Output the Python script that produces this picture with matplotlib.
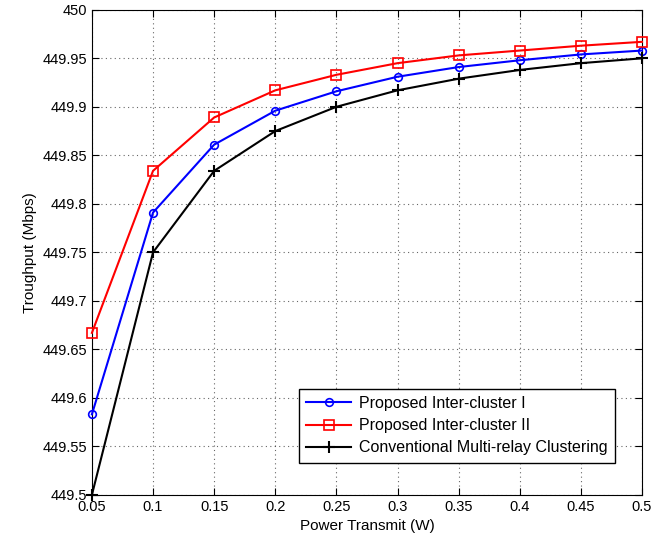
import matplotlib.pyplot as plt

plt.rcParams['font.family'] = ['Liberation Sans', 'DejaVu Sans']

# power transmit (W)
power = [0.05, 0.1, 0.15, 0.2, 0.25, 0.3, 0.35, 0.4, 0.45, 0.5]

# throughput (Mbps)
inter_cluster_1 = [449.583, 449.791, 449.861, 449.896, 449.916, 449.931, 449.941, 449.948, 449.954, 449.958]
inter_cluster_2 = [449.667, 449.834, 449.889, 449.917, 449.933, 449.945, 449.953, 449.958, 449.963, 449.967]
conventional = [449.500, 449.750, 449.834, 449.875, 449.900, 449.917, 449.929, 449.938, 449.945, 449.950]

xticks = [0.05, 0.1, 0.15, 0.2, 0.25, 0.3, 0.35, 0.4, 0.45, 0.5]
xtick_labels = ['0.05', '0.1', '0.15', '0.2', '0.25', '0.3', '0.35', '0.4', '0.45', '0.5']
yticks = [449.5, 449.55, 449.6, 449.65, 449.7, 449.75, 449.8, 449.85, 449.9, 449.95, 450]
ytick_labels = ['449.5', '449.55', '449.6', '449.65', '449.7', '449.75', '449.8', '449.85', '449.9', '449.95', '450']

fig = plt.figure(figsize=(6.66, 5.45), dpi=100)
ax = fig.add_axes([0.138, 0.092, 0.826, 0.89])

ax.plot(power, inter_cluster_1, color='blue', marker='o', markersize=5.5, markerfacecolor='none',
        markeredgewidth=1.2, linewidth=1.5, label='Proposed Inter-cluster I', clip_on=False, zorder=3)
ax.plot(power, inter_cluster_2, color='red', marker='s', markersize=7, markerfacecolor='none',
        markeredgewidth=1.2, linewidth=1.5, label='Proposed Inter-cluster II', clip_on=False, zorder=3)
ax.plot(power, conventional, color='black', marker='+', markersize=9, markeredgewidth=1.5,
        linewidth=1.5, label='Conventional Multi-relay Clustering', clip_on=False, zorder=3)

ax.set_xlim(0.05, 0.5)
ax.set_ylim(449.5, 450)
ax.set_xticks(xticks)
ax.set_xticklabels(xtick_labels)
ax.set_yticks(yticks)
ax.set_yticklabels(ytick_labels)
ax.tick_params(direction='in', labelsize=10.5, top=True, right=True, length=5)
ax.grid(True, linestyle=(0, (1, 3)), color='black', linewidth=0.8, alpha=0.6)

ax.set_xlabel('Power Transmit (W)', fontsize=11)
ax.set_ylabel('Troughput (Mbps)', fontsize=11)

leg = ax.legend(loc='lower right', bbox_to_anchor=(0.965, 0.05), fontsize=11.5, fancybox=False,
                framealpha=1, edgecolor='black', borderpad=0.45, labelspacing=0.45,
                handlelength=2.8, handletextpad=0.5)
leg.get_frame().set_linewidth(1.0)

fig.savefig('out.png', dpi=100)
